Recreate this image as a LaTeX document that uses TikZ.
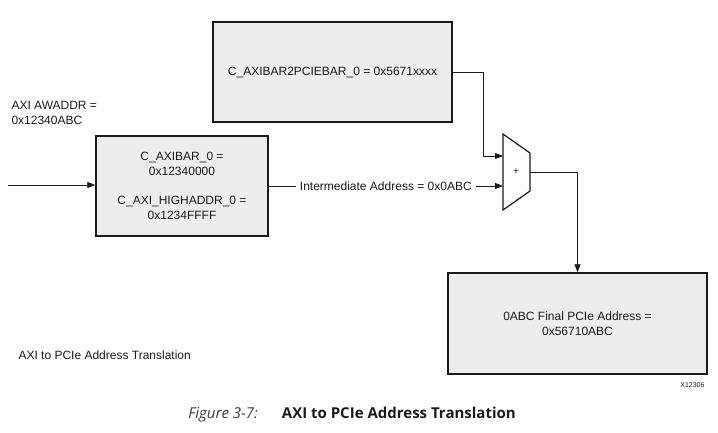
\documentclass[tikz,border=0pt]{standalone}
\usepackage{fontspec}
\setmainfont{Liberation Sans}
\newfontfamily\capfont{Open Sans}
\usetikzlibrary{arrows.meta,positioning}
\definecolor{ink}{HTML}{1A1A1A}
\definecolor{boxgray}{HTML}{EDEDED}
\definecolor{capgray}{HTML}{3C3C3C}
\tikzset{
  >={Triangle[length=8pt,width=6pt]},
  every node/.style={font=\fontsize{12}{14.5}\selectfont,text=ink},
  regbox/.style={draw=ink,line width=1.4pt,fill=boxgray,inner sep=0pt,align=center},
  wire/.style={ink,line width=0.8pt},
  lbl/.style={anchor=west,align=left},
}

\begin{document}
\begin{tikzpicture}[x=1pt,y=-1pt]
  \useasboundingbox (0,0) rectangle (718,432);
  % register boxes
  \node[regbox,minimum width=239pt,minimum height=100pt] (pciebar) at (332.5,72)
    {C\_AXIBAR2PCIEBAR\_0 = 0x5671xxxx};
  \node[regbox,minimum width=172pt,minimum height=100pt] (axibar) at (182,186)
    {C\_AXIBAR\_0 =\\0x12340000\\[15pt]C\_AXI\_HIGHADDR\_0 =\\0x1234FFFF};
  \node[regbox,minimum width=259pt,minimum height=101pt] (final) at (577.5,323.5)
    {0ABC Final PCIe Address =\\0x56710ABC};
  % adder
  \draw[ink,line width=1.2pt,fill=white] (503,134) -- (530,153) -- (530,191) -- (503,210) -- cycle;
  \node[font=\fontsize{10}{11}\selectfont] (plus) at (516,172) {+};
  \coordinate (muxa) at (503,156);
  \coordinate (muxb) at (503,186);
  \coordinate (muxo) at (530,172);
  \coordinate (bend) at (483,156);
  \coordinate (src) at (8,185);
  % wires
  \draw[wire,->] (src) -- (src -| axibar.west);
  \draw[wire,->] (pciebar.east) -| (bend) -- (muxa);
  \draw[wire,->] (axibar.east |- muxb) -- node[fill=white,inner sep=4pt] (inter)
    {Intermediate Address = 0x0ABC} (muxb);
  \draw[wire,->] (muxo) -| (final.north);
  % labels
  \node[lbl] (awaddr) at (8,113) {AXI AWADDR =\\0x12340ABC};
  \node[lbl] (title) at (15,355) {AXI to PCIe Address Translation};
  \node[anchor=east,font=\fontsize{7}{8}\selectfont] (tag) at (708,385) {X12306};
  \node[font=\capfont\fontsize{15}{17}\selectfont] (caption) at (352,415)
    {\textcolor{capgray}{\itshape Figure 3-7:}\hspace{1.6em}\textbf{AXI to PCIe Address Translation}};
\end{tikzpicture}
\end{document}
